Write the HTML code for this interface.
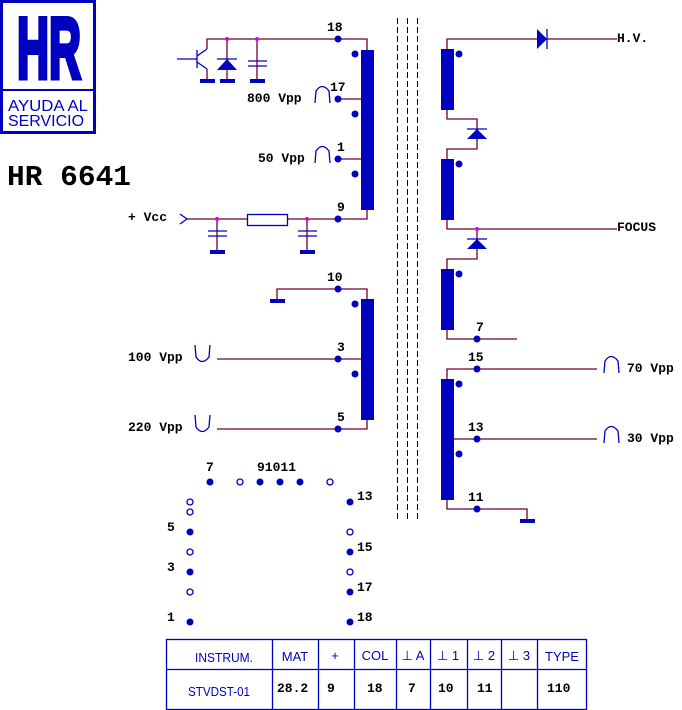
<!DOCTYPE html>
<html><head><meta charset="utf-8"><style>
html,body{margin:0;padding:0;background:#fff;}
svg{display:block;}
.t{font-family:"Liberation Mono",monospace;font-weight:bold;font-size:13px;fill:#000;}
.s{font-family:"Liberation Sans",sans-serif;font-size:13px;fill:#0000c0;}
</style></head><body>
<svg width="682" height="710" viewBox="0 0 682 710" xmlns="http://www.w3.org/2000/svg">
<!-- Logo -->
<rect x="1.5" y="1.5" width="93" height="131" fill="none" stroke="#0000c0" stroke-width="3"/>
<line x1="1" y1="90" x2="96" y2="90" stroke="#0000c0" stroke-width="2"/>
<text x="49" y="78" text-anchor="middle" font-family="Liberation Sans,sans-serif" font-weight="bold" font-size="86" fill="#0000c0" stroke="#0000c0" stroke-width="5" textLength="64" lengthAdjust="spacingAndGlyphs">HR</text>
<text x="8" y="111" font-family="Liberation Sans,sans-serif" font-size="16" fill="#0000c0" textLength="80" lengthAdjust="spacingAndGlyphs">AYUDA AL</text>
<text x="8" y="126" font-family="Liberation Sans,sans-serif" font-size="16" fill="#0000c0" textLength="76" lengthAdjust="spacingAndGlyphs">SERVICIO</text>
<text x="7" y="185" font-family="Liberation Mono,monospace" font-weight="bold" font-size="29" fill="#000" textLength="124" lengthAdjust="spacingAndGlyphs">HR 6641</text>

<!-- dashed core lines -->
<g stroke="#000" stroke-width="1" stroke-dasharray="6,3">
<line x1="397.5" y1="18" x2="397.5" y2="520"/><line x1="407.5" y1="18" x2="407.5" y2="520"/><line x1="417.5" y1="18" x2="417.5" y2="520"/>
</g>

<g stroke="#700030" stroke-width="1.3" fill="none">
<polyline points="207,49 207,39 367,39 367,50"/>
<line x1="338" y1="99" x2="367" y2="99"/>
<line x1="338" y1="159" x2="367" y2="159"/>
<polyline points="187,219 367,219 367,209"/>
<line x1="207" y1="69" x2="207" y2="80"/>
<line x1="227" y1="39" x2="227" y2="80"/>
<line x1="257" y1="39" x2="257" y2="80"/>
<line x1="217" y1="219" x2="217" y2="250"/>
<line x1="307" y1="219" x2="307" y2="250"/>
<polyline points="277,299 277,289 367,289 367,299"/>
<line x1="217" y1="359" x2="367" y2="359"/>
<polyline points="217,429 367,429 367,419"/>
<polyline points="447,49 447,39 617,39"/>
<polyline points="447,109 447,119 477,119 477,149 447,149 447,159"/>
<polyline points="447,219 447,229 617,229"/>
<polyline points="477,229 477,259 447,259 447,269"/>
<polyline points="447,329 447,339 517,339"/>
<polyline points="447,379 447,369 597,369"/>
<line x1="447" y1="439" x2="597" y2="439"/>
<polyline points="447,499 447,509 527,509 527,519"/>
</g>

<g fill="#0000c0" stroke="none">
<rect x="361" y="50" width="13" height="160"/>
<rect x="361" y="299" width="13" height="121"/>
<rect x="441" y="49" width="13" height="61"/>
<rect x="441" y="159" width="13" height="61"/>
<rect x="441" y="269" width="13" height="61"/>
<rect x="441" y="379" width="13" height="121"/>
<rect x="200" y="79" width="15" height="4"/><rect x="220" y="79" width="15" height="4"/><rect x="250" y="79" width="15" height="4"/>
<rect x="210" y="250" width="15" height="4"/><rect x="300" y="250" width="15" height="4"/>
<rect x="270" y="299" width="15" height="4"/>
<rect x="520" y="519" width="15" height="4"/>
<polygon points="217,70 237,70 227,59"/>
<polygon points="467,139 487,139 477,129"/>
<polygon points="467,249 487,249 477,239"/>
<polygon points="537,29 537,49 547,39"/>
<g>
<circle cx="338" cy="39" r="3.5"/><circle cx="338" cy="99" r="3.5"/><circle cx="338" cy="159" r="3.5"/><circle cx="338" cy="219" r="3.5"/>
<circle cx="355" cy="54" r="3.5"/><circle cx="355" cy="114" r="3.5"/><circle cx="355" cy="174" r="3.5"/>
<circle cx="338" cy="289" r="3.5"/><circle cx="338" cy="359" r="3.5"/><circle cx="338" cy="429" r="3.5"/>
<circle cx="355" cy="304" r="3.5"/><circle cx="355" cy="374" r="3.5"/>
<circle cx="459" cy="54" r="3.5"/><circle cx="459" cy="164" r="3.5"/><circle cx="459" cy="274" r="3.5"/>
<circle cx="477" cy="339" r="3.5"/><circle cx="477" cy="369" r="3.5"/><circle cx="477" cy="439" r="3.5"/><circle cx="477" cy="509" r="3.5"/>
<circle cx="459" cy="384" r="3.5"/><circle cx="459" cy="454" r="3.5"/>
<circle cx="210" cy="482" r="3.5"/><circle cx="260" cy="482" r="3.5"/><circle cx="280" cy="482" r="3.5"/><circle cx="300" cy="482" r="3.5"/>
<circle cx="190" cy="532" r="3.5"/><circle cx="190" cy="572" r="3.5"/><circle cx="190" cy="622" r="3.5"/>
<circle cx="350" cy="502" r="3.5"/><circle cx="350" cy="552" r="3.5"/><circle cx="350" cy="592" r="3.5"/><circle cx="350" cy="622" r="3.5"/>
</g>
</g>
<g fill="#e000e0"><circle cx="227" cy="39" r="2"/><circle cx="257" cy="39" r="2"/><circle cx="217" cy="219" r="2"/><circle cx="307" cy="219" r="2"/><circle cx="477" cy="229" r="2"/></g>

<g stroke="#0000c0" stroke-width="1.3" fill="none">
<circle cx="240" cy="482" r="3"/><circle cx="330" cy="482" r="3"/>
<circle cx="190" cy="502" r="3"/><circle cx="190" cy="512" r="3"/><circle cx="190" cy="552" r="3"/><circle cx="190" cy="592" r="3"/>
<circle cx="350" cy="532" r="3"/><circle cx="350" cy="572" r="3"/>
<line x1="177" y1="59" x2="197" y2="59"/><line x1="197" y1="50" x2="197" y2="68"/>
<line x1="197" y1="56" x2="207" y2="49"/><line x1="197" y1="62" x2="207" y2="69"/>
<line x1="217" y1="59" x2="237" y2="59"/><line x1="467" y1="129" x2="487" y2="129"/><line x1="467" y1="239" x2="487" y2="239"/>
<line x1="547" y1="29" x2="547" y2="49"/>
<line x1="248" y1="61" x2="267" y2="61"/><line x1="248" y1="66" x2="267" y2="66"/>
<line x1="208" y1="231" x2="227" y2="231"/><line x1="208" y1="236" x2="227" y2="236"/>
<line x1="298" y1="231" x2="317" y2="231"/><line x1="298" y1="236" x2="317" y2="236"/>
<rect x="247.5" y="214.5" width="40" height="11" fill="#fff"/>
<polyline points="180,214 187,219 180,224"/>
<path d="M315,103 L316,91 Q322,82 329,91 L330,103"/>
<path d="M315,163 L316,151 Q322,142 329,151 L330,163"/>
<path d="M604,373 L605,361 Q611,352 618,361 L619,373"/>
<path d="M604,443 L605,431 Q611,422 618,431 L619,443"/>
<path d="M195,345 L196,357 Q202,366 209,357 L210,345"/>
<path d="M195,415 L196,427 Q202,436 209,427 L210,415"/>
</g>

<g class="t">
<text x="327" y="31">18</text><text x="330" y="91">17</text><text x="337" y="151">1</text><text x="337" y="211">9</text>
<text x="247" y="102">800 Vpp</text><text x="258" y="162">50 Vpp</text>
<text x="128" y="221">+ Vcc</text>
<text x="327" y="281">10</text><text x="337" y="351">3</text><text x="337" y="421">5</text>
<text x="128" y="361">100 Vpp</text><text x="128" y="431">220 Vpp</text>
<text x="617" y="42">H.V.</text><text x="617" y="231">FOCUS</text>
<text x="476" y="331">7</text><text x="468" y="361">15</text><text x="468" y="431">13</text><text x="468" y="501">11</text>
<text x="627" y="372">70 Vpp</text><text x="627" y="442">30 Vpp</text>
<text x="206" y="471">7</text><text x="257" y="471">91011</text>
<text x="167" y="531">5</text><text x="167" y="571">3</text><text x="167" y="621">1</text>
<text x="357" y="500">13</text><text x="357" y="551">15</text><text x="357" y="591">17</text><text x="357" y="621">18</text>
</g>

<g stroke="#0000c0" stroke-width="1.3" fill="none">
<rect x="166.5" y="639.5" width="420" height="70"/>
<line x1="166" y1="669.5" x2="587" y2="669.5"/>
<line x1="272.5" y1="639" x2="272.5" y2="710"/><line x1="318.5" y1="639" x2="318.5" y2="710"/>
<line x1="354.5" y1="639" x2="354.5" y2="710"/><line x1="396.5" y1="639" x2="396.5" y2="710"/>
<line x1="430.5" y1="639" x2="430.5" y2="710"/><line x1="467.5" y1="639" x2="467.5" y2="710"/>
<line x1="501.5" y1="639" x2="501.5" y2="710"/><line x1="537.5" y1="639" x2="537.5" y2="710"/>
</g>
<g class="s" text-anchor="middle">
<text x="224" y="662" textLength="58" lengthAdjust="spacingAndGlyphs">INSTRUM.</text><text x="295" y="661">MAT</text><text x="335" y="660">+</text>
<text x="375" y="660">COL</text><text x="413" y="660">⊥ A</text><text x="448" y="660">⊥ 1</text><text x="484" y="660">⊥ 2</text><text x="519" y="660">⊥ 3</text><text x="562" y="661">TYPE</text>
<text x="219" y="696" textLength="62" lengthAdjust="spacingAndGlyphs">STVDST-01</text>
</g>
<g class="t" font-size="14">
<text x="277" y="692">28.2</text><text x="327" y="692">9</text><text x="367" y="692">18</text><text x="408" y="692">7</text>
<text x="438" y="692">10</text><text x="477" y="692">11</text><text x="547" y="692">110</text>
</g>
</svg>
</body></html>
